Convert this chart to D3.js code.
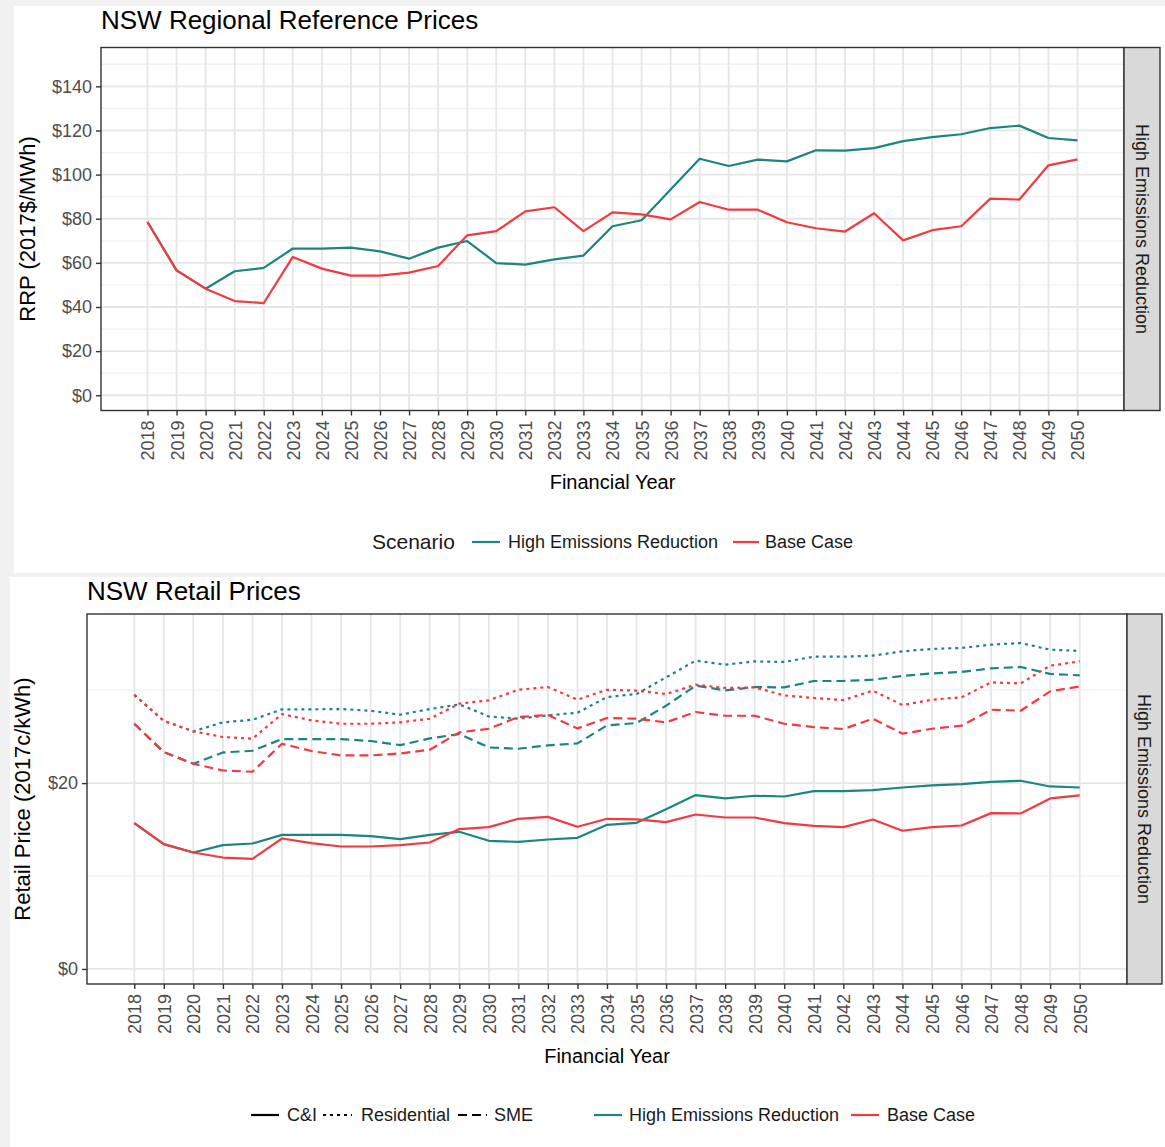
<!DOCTYPE html>
<html><head><meta charset="utf-8">
<script src="https://cdn.jsdelivr.net/npm/d3@7"></script>
<style>
body{margin:0;background:#f1f1f1;}
svg{display:block;font-family:"Liberation Sans",Arial,Helvetica,sans-serif;}
</style>
</head><body>
<svg id="c" width="1165" height="1147"></svg>
<script>
// ---------- data ----------
const years = ["2018","2019","2020","2021","2022","2023","2024","2025","2026","2027","2028","2029","2030","2031","2032","2033","2034","2035","2036","2037","2038","2039","2040","2041","2042","2043","2044","2045","2046","2047","2048","2049","2050"];
const scenarios = ["High Emissions Reduction", "Base Case"];
const customerTypes = ["C&I", "Residential", "SME"];

// NSW Regional Reference Prices (2017$/MWh)
const rrpHER  = [78.5,56.6,48.3,56.2,57.7,66.5,66.5,66.9,65.2,61.9,66.9,69.9,59.9,59.2,61.6,63.3,76.6,79.3,93.3,107.2,103.9,106.8,106.0,111.0,110.9,112.0,115.2,117.0,118.3,121.1,122.2,116.6,115.5];
const rrpBase = [78.5,56.6,48.3,42.7,41.8,62.7,57.4,54.2,54.2,55.6,58.6,72.5,74.4,83.3,85.2,74.4,82.9,82.0,79.7,87.6,84.1,84.1,78.4,75.7,74.2,82.5,70.2,74.8,76.6,89.1,88.7,104.2,106.9];

// NSW Retail Prices (2017c/kWh)
const ciHER    = [15.69,13.43,12.53,13.32,13.5,14.43,14.43,14.43,14.29,13.97,14.43,14.76,13.79,13.68,13.93,14.11,15.51,15.73,17.2,18.71,18.35,18.64,18.56,19.14,19.14,19.25,19.53,19.75,19.9,20.14,20.25,19.64,19.53];
const ciBase   = [15.69,13.43,12.53,11.99,11.85,14.04,13.54,13.18,13.18,13.32,13.61,15.05,15.26,16.16,16.37,15.3,16.16,16.09,15.8,16.62,16.3,16.3,15.69,15.4,15.26,16.09,14.87,15.26,15.44,16.77,16.73,18.35,18.67];
const resHER   = [29.5,26.7,25.57,26.54,26.82,27.94,27.94,27.97,27.79,27.36,27.97,28.47,27.18,26.93,27.29,27.58,29.26,29.59,31.38,33.18,32.75,33.1,33.04,33.61,33.61,33.72,34.18,34.44,34.55,34.9,35.08,34.36,34.22];
const resBase  = [29.5,26.7,25.57,24.96,24.78,27.43,26.75,26.39,26.39,26.54,26.93,28.55,28.91,30.05,30.34,28.98,30.05,29.95,29.59,30.59,30.24,30.3,29.44,29.16,28.94,29.95,28.4,28.98,29.23,30.84,30.73,32.64,33.1];
const smeHER   = [26.39,23.34,22.08,23.3,23.48,24.74,24.74,24.74,24.53,24.09,24.81,25.28,23.84,23.7,24.06,24.27,26.21,26.47,28.33,30.49,29.98,30.34,30.3,30.99,30.99,31.13,31.53,31.81,31.96,32.35,32.5,31.75,31.6];
const smeBase  = [26.39,23.34,22.08,21.36,21.22,24.24,23.45,22.98,22.98,23.19,23.59,25.46,25.85,27.11,27.33,25.89,27.0,26.93,26.54,27.65,27.25,27.25,26.39,26.03,25.82,26.93,25.32,25.85,26.18,27.9,27.79,29.87,30.41];

const rrpTicks = [0,20,40,60,80,100,120,140];
const rrpMinor = [10,30,50,70,90,110,130,150];
const retailTicks = [0,20];
const retailMinor = [10,30];

// ---------- styles ----------
const COL = {"High Emissions Reduction":"#1b8580", "Base Case":"#f23a40"};
const DASH = {"C&I":null, "Residential":"3,4", "SME":"9,5"};
const FONT = '"Liberation Sans",Arial,Helvetica,sans-serif';

const svg = d3.select("#c");
svg.append("rect").attr("x",14).attr("y",6).attr("width",1151).attr("height",567).attr("fill","#fff");
svg.append("rect").attr("x",10).attr("y",577).attr("width",1155).attr("height",570).attr("fill","#fff");

function panel(o){
  const g = svg.append("g");
  const x = d3.scalePoint().domain(years).range([o.l,o.r]).padding(1.6);
  const y = d3.scaleLinear().domain(o.yDomain).range([o.b,o.t]);

  // grid
  g.selectAll(".ymin").data(o.yMinor.filter(v=>y(v)>o.t && y(v)<o.b)).join("line")
    .attr("x1",o.l).attr("x2",o.r).attr("y1",d=>y(d)).attr("y2",d=>y(d))
    .attr("stroke","#f0f0f0").attr("stroke-width",1.3);
  g.selectAll(".ymaj").data(o.yTicks).join("line")
    .attr("x1",o.l).attr("x2",o.r).attr("y1",d=>y(d)).attr("y2",d=>y(d))
    .attr("stroke","#e6e6e6").attr("stroke-width",1.8);
  g.selectAll(".xmaj").data(years).join("line")
    .attr("x1",d=>x(d)).attr("x2",d=>x(d)).attr("y1",o.t).attr("y2",o.b)
    .attr("stroke","#e6e6e6").attr("stroke-width",1.8);

  // series
  const line = d3.line().x((d,i)=>x(years[i])).y(d=>y(d));
  o.series.forEach(s=>{
    g.append("path").datum(s.values).attr("d",line)
      .attr("fill","none").attr("stroke",COL[s.scenario]).attr("stroke-width",2.2)
      .attr("stroke-dasharray",s.dash).attr("stroke-linejoin","round");
  });

  // panel border
  g.append("rect").attr("x",o.l).attr("y",o.t).attr("width",o.r-o.l).attr("height",o.b-o.t)
    .attr("fill","none").attr("stroke","#333").attr("stroke-width",1.4);

  // strip
  g.append("rect").attr("x",o.r).attr("y",o.t).attr("width",o.stripW).attr("height",o.b-o.t)
    .attr("fill","#d9d9d9").attr("stroke","#333").attr("stroke-width",1.4);
  g.append("text").attr("transform",`translate(${o.r+o.stripW/2},${(o.t+o.b)/2}) rotate(90)`)
    .attr("text-anchor","middle").attr("dy","0.35em").attr("font-size",18).attr("fill","#1a1a1a")
    .text(scenarios[0]);

  // axes
  const ya = g.append("g").attr("transform",`translate(${o.l},0)`)
    .call(d3.axisLeft(y).tickValues(o.yTicks).tickFormat(d=>"$"+d).tickSize(5).tickPadding(4));
  ya.select(".domain").remove();
  ya.selectAll("line").attr("stroke","#333").attr("stroke-width",1.4);
  ya.selectAll("text").attr("fill","#4d4d4d").attr("font-size",18).attr("font-family",FONT);

  const xa = g.append("g").attr("transform",`translate(0,${o.b})`)
    .call(d3.axisBottom(x).tickSize(5));
  xa.select(".domain").remove();
  xa.selectAll("line").attr("stroke","#333").attr("stroke-width",1.4);
  xa.selectAll("text").attr("fill","#4d4d4d").attr("font-size",18).attr("font-family",FONT)
    .attr("transform","rotate(-90)").attr("x",-10).attr("y",0).attr("dy","0.36em")
    .style("text-anchor","end");

  // titles
  svg.append("text").attr("x",o.l).attr("y",o.titleY).attr("font-size",26).attr("fill","#000").text(o.title);
  svg.append("text").attr("x",(o.l+o.r)/2).attr("y",o.xTitleY).attr("text-anchor","middle")
    .attr("font-size",20).attr("fill","#000").text("Financial Year");
  svg.append("text").attr("transform",`translate(${o.yTitleX},${(o.t+o.b)/2}) rotate(-90)`)
    .attr("text-anchor","middle").attr("font-size",22).attr("fill","#000").text(o.yTitle);
}

panel({
  l:101, r:1124, t:47.5, b:410.5, stripW:36,
  yDomain:[-6.9,157.6], yTicks:rrpTicks, yMinor:rrpMinor,
  title:"NSW Regional Reference Prices", titleY:29,
  xTitleY:489, yTitle:"RRP (2017$/MWh)", yTitleX:35,
  series:[
    {values:rrpHER, scenario:scenarios[0], dash:null},
    {values:rrpBase, scenario:scenarios[1], dash:null}
  ]
});

panel({
  l:87, r:1127, t:614, b:984, stripW:35,
  yDomain:[-1.62,38.2], yTicks:retailTicks, yMinor:retailMinor,
  title:"NSW Retail Prices", titleY:600,
  xTitleY:1063, yTitle:"Retail Price (2017c/kWh)", yTitleX:30,
  series:[
    {values:ciHER, scenario:scenarios[0], dash:DASH["C&I"]},
    {values:resHER, scenario:scenarios[0], dash:DASH["Residential"]},
    {values:smeHER, scenario:scenarios[0], dash:DASH["SME"]},
    {values:ciBase, scenario:scenarios[1], dash:DASH["C&I"]},
    {values:resBase, scenario:scenarios[1], dash:DASH["Residential"]},
    {values:smeBase, scenario:scenarios[1], dash:DASH["SME"]}
  ]
});

// ---------- legends ----------
function key(x1,x2,y,color,dash){
  svg.append("line").attr("x1",x1).attr("x2",x2).attr("y1",y).attr("y2",y)
    .attr("stroke",color).attr("stroke-width",2.2).attr("stroke-dasharray",dash);
}
function label(x,y,t,size){
  svg.append("text").attr("x",x).attr("y",y).attr("dy","0.35em").attr("font-size",size||18).attr("fill","#1a1a1a").text(t);
}
// top legend
label(372,542,"Scenario",21);
key(472,500,542,COL[scenarios[0]],null); label(508,542,scenarios[0]);
key(733,759,542,COL[scenarios[1]],null); label(765,542,scenarios[1]);
// bottom legend
const ly = 1115;
key(251,279,ly,"#000",DASH["C&I"]); label(287,ly,customerTypes[0]);
key(323,352,ly,"#000",DASH["Residential"]); label(361,ly,customerTypes[1]);
key(458,487,ly,"#000",DASH["SME"]); label(494,ly,customerTypes[2]);
key(594,622,ly,COL[scenarios[0]],null); label(629,ly,scenarios[0]);
key(851,879,ly,COL[scenarios[1]],null); label(887,ly,scenarios[1]);
</script>
</body></html>
